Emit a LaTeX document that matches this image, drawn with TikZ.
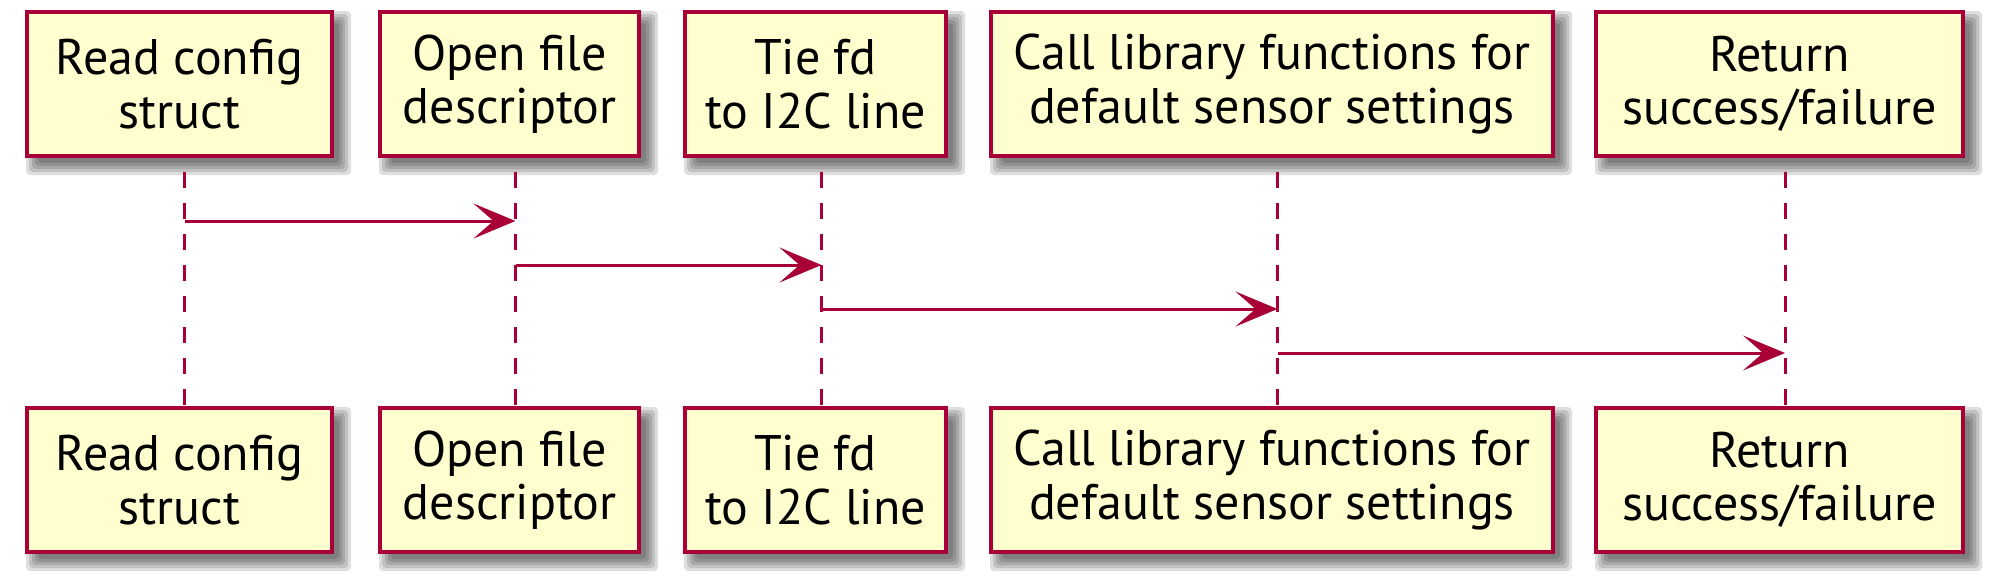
\documentclass[tikz,border=0pt]{standalone}
\usepackage{fontspec}
\setmainfont{PT Sans}
\usetikzlibrary{arrows.meta,backgrounds}
\definecolor{umlred}{HTML}{A80036}
\definecolor{umlfill}{HTML}{FEFECE}
\tikzset{
  part/.style={draw=umlred, fill=umlfill, line width=2pt, inner sep=0pt,
    minimum height=72pt, align=center,
    font=\fontsize{25pt}{26.7pt}\selectfont},
  shadowlayer/.style={fill=black, fill opacity=0.13},
  life/.style={draw=umlred, line width=1.5pt, dash pattern=on 7.75pt off 7.75pt},
  msg/.style={draw=umlred, line width=1.5pt, -{Stealth[length=21pt, width=17.5pt, inset=10pt]}}
}
\begin{document}
\begin{tikzpicture}[x=0.5pt,y=-0.5pt]
\useasboundingbox (0,0) rectangle (1993,584);
% lifeline x positions
\coordinate (L1) at (184.5,0);
\coordinate (L2) at (515.5,0);
\coordinate (L3) at (821.5,0);
\coordinate (L4) at (1277.5,0);
\coordinate (L5) at (1785,0);
% message rows
\coordinate (y1) at (0,221);
\coordinate (y2) at (0,265);
\coordinate (y3) at (0,309);
\coordinate (y4) at (0,353);
\coordinate (ls) at (0,172);
\coordinate (le) at (0,406);
% top participants
\node[part, minimum width=152.5pt] (t1) at (179.5,84) {Read config\\struct};
\node[part, minimum width=129.5pt] (t2) at (509.5,84) {Open file\\descriptor};
\node[part, minimum width=130.5pt] (t3) at (815.5,84) {Tie fd\\to I2C line};
\node[part, minimum width=281pt] (t4) at (1272,84) {Call library functions for\\default sensor settings};
\node[part, minimum width=183.5pt] (t5) at (1779.5,84) {Return\\success/failure};
% bottom participants
\node[part, minimum width=152.5pt] (b1) at (179.5,480) {Read config\\struct};
\node[part, minimum width=129.5pt] (b2) at (509.5,480) {Open file\\descriptor};
\node[part, minimum width=130.5pt] (b3) at (815.5,480) {Tie fd\\to I2C line};
\node[part, minimum width=281pt] (b4) at (1272,480) {Call library functions for\\default sensor settings};
\node[part, minimum width=183.5pt] (b5) at (1779.5,480) {Return\\success/failure};
\begin{scope}[on background layer]
  % soft drop shadows
  \foreach \n in {t1,t2,t3,t4,t5,b1,b2,b3,b4,b5}{
    \foreach \e in {-2,-0.5,1,2.5,4}{
      \fill[shadowlayer, rounded corners=2pt]
        ([xshift=4.5pt-\e pt, yshift=-4.5pt-\e pt]\n.south west)
        rectangle ([xshift=4.5pt+\e pt, yshift=-4.5pt+\e pt]\n.north east);
    }
  }
  % lifelines
  \foreach \i in {1,...,5}{
    \draw[life] (L\i |- ls) -- (L\i |- le);
  }
\end{scope}
% messages
\draw[msg] (L1 |- y1) -- (L2 |- y1);
\draw[msg] (L2 |- y2) -- (L3 |- y2);
\draw[msg] (L3 |- y3) -- (L4 |- y3);
\draw[msg] (L4 |- y4) -- (L5 |- y4);
\end{tikzpicture}
\end{document}
